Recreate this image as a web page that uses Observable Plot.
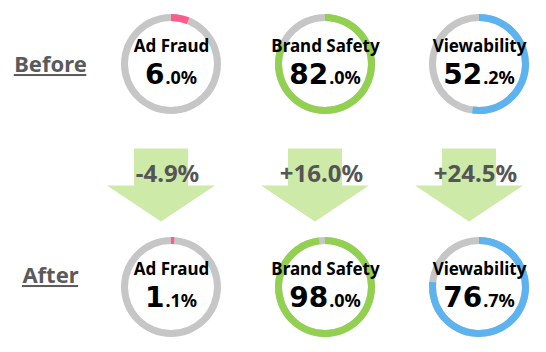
<!DOCTYPE html>
<html><head><meta charset="utf-8">
<script src="https://cdn.jsdelivr.net/npm/d3@7"></script>
<script src="https://cdn.jsdelivr.net/npm/@observablehq/plot@0.6"></script>
<style>
html,body{margin:0;padding:0;background:#fff;}
#chart svg{display:block;}
</style>
</head><body><div id="chart"></div>
<script>
// ---- data ----
const metrics = ["Ad Fraud", "Brand Safety", "Viewability"];
const phases = ["Before", "After"];
const beforeValues = [6.0, 82.0, 52.2];
const afterValues = [1.1, 98.0, 76.7];
const changeLabels = ["-4.9%", "+16.0%", "+24.5%"];
const metricColors = ["#ff5c8d", "#92d050", "#5cb3ef"];
const trackColor = "#c6c6c6";
const arrowColor = "#cdeaa9";
const phaseColor = "#5a5a5a";

const rows = [];
metrics.forEach((m, i) => {
  rows.push({metric: m, phase: "Before", value: beforeValues[i], color: metricColors[i]});
  rows.push({metric: m, phase: "After", value: afterValues[i], color: metricColors[i]});
});
const changes = metrics.map((m, i) => ({metric: m, label: changeLabels[i]}));

const OUTER = 50, INNER = 43;
const ARROW_DX = -10;
const PHASE_FONT = 22;
const phaseDy = {Before: 0, After: -12};
const PHASE_X = 50;

function ringsMark(index, scales) {
  const g = d3.create("svg:g").attr("aria-label", "rings");
  const arc = d3.arc().innerRadius(INNER).outerRadius(OUTER);
  for (const r of rows) {
    const cx = scales.x(r.metric), cy = scales.y(r.phase);
    const gg = g.append("g").attr("transform", `translate(${cx},${cy})`);
    gg.append("path").attr("d", arc({startAngle: 0, endAngle: 2 * Math.PI})).attr("fill", trackColor);
    gg.append("path").attr("d", arc({startAngle: 0, endAngle: 2 * Math.PI * r.value / 100})).attr("fill", r.color);
    const [ip, dp] = r.value.toFixed(1).split(".");
    const t = gg.append("text").attr("text-anchor", "middle").attr("y", 20)
      .attr("fill", "#000").attr("font-weight", "bold");
    t.append("tspan").attr("font-family", "'DejaVu Sans', sans-serif").attr("font-size", 28).text(ip);
    t.append("tspan").attr("font-family", "'Noto Sans', sans-serif").attr("font-size", 18).attr("dx", 1).text("." + dp + "%");
  }
  return g.node();
}

function arrowsMark(index, scales) {
  const g = d3.create("svg:g").attr("aria-label", "arrows");
  const mid = (scales.y("Before") + scales.y("After")) / 2;
  for (const c of changes) {
    const cx = scales.x(c.metric) + ARROW_DX;
    const pts = [
      [cx - 27, mid - 27], [cx + 27, mid - 27], [cx + 27, mid + 10],
      [cx + 54, mid + 10], [cx, mid + 46], [cx - 54, mid + 10], [cx - 27, mid + 10]
    ];
    g.append("path").attr("d", "M" + pts.map(p => p.join(",")).join("L") + "Z").attr("fill", arrowColor);
  }
  return g.node();
}

const measureCtx = document.createElement("canvas").getContext("2d");
function underlineMark(index, scales) {
  const g = d3.create("svg:g").attr("aria-label", "underline");
  measureCtx.font = `bold ${PHASE_FONT}px 'Noto Sans'`;
  for (const p of phases) {
    const w = measureCtx.measureText(p).width;
    const y = scales.y(p) + phaseDy[p] + 0.32 * PHASE_FONT + 3;
    g.append("rect").attr("x", PHASE_X - w / 2).attr("y", y).attr("width", w).attr("height", 2).attr("fill", phaseColor);
  }
  return g.node();
}

const plot = Plot.plot({
  width: 546, height: 352, margin: 0,
  x: {type: "point", domain: metrics, range: [171, 479], padding: 0, axis: null},
  y: {type: "point", domain: phases, range: [64, 287], padding: 0, axis: null},
  style: {fontFamily: "'Noto Sans', sans-serif", background: "#fff"},
  marks: [
    arrowsMark,
    Plot.text(changes, {x: "metric", y: () => "Before", text: "label", dy: 110, dx: ARROW_DX + 6,
      fontSize: 24, fontWeight: "bold", fill: "#555"}),
    ringsMark,
    Plot.text(rows, {x: "metric", y: "phase", text: "metric", dy: -18, fontSize: 17, fontWeight: "bold", fill: "#000"}),
    ...phases.map(p => Plot.text([p], {y: d => d, text: d => d, frameAnchor: "left", dx: PHASE_X, dy: phaseDy[p],
      textAnchor: "middle", fontSize: PHASE_FONT, fontWeight: "bold", fill: phaseColor})),
    underlineMark
  ]
});
document.getElementById("chart").appendChild(plot);
</script>
</body></html>
